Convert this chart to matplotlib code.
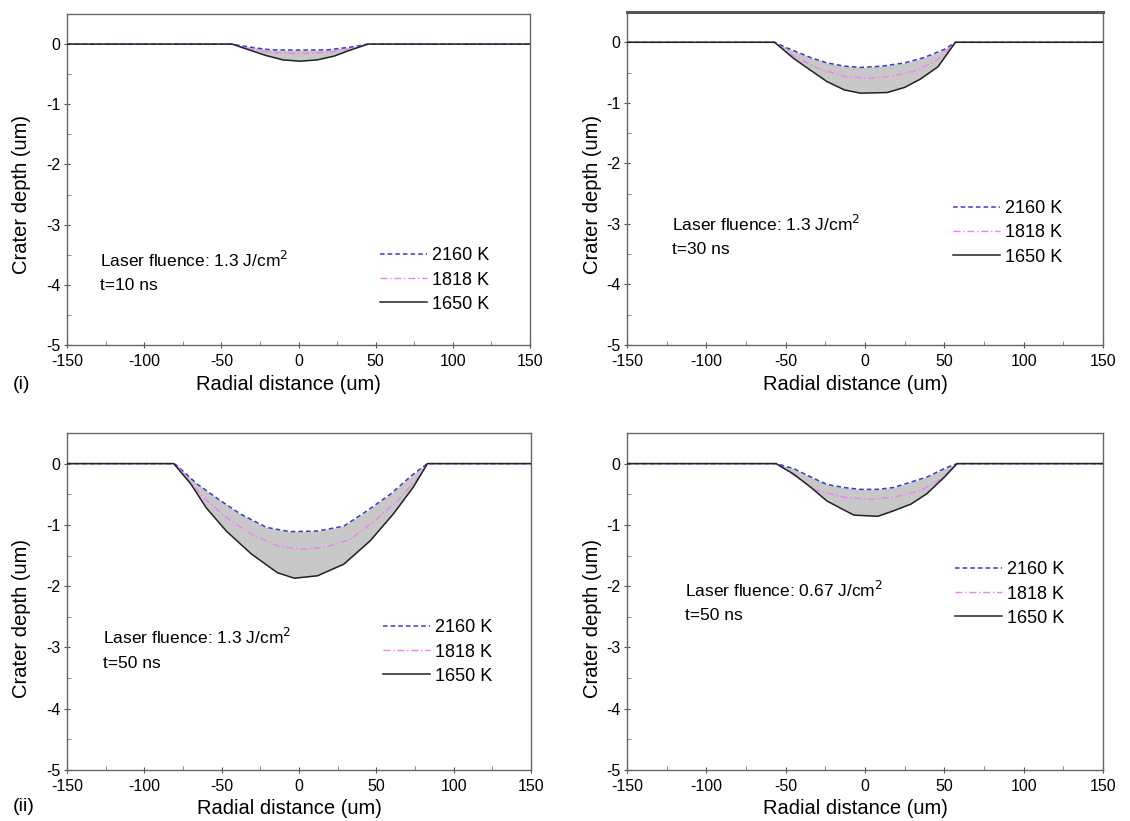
import numpy as np
import matplotlib
matplotlib.use("Agg")
import matplotlib.pyplot as plt
from matplotlib.ticker import MultipleLocator

plt.rcParams['font.family'] = ['Liberation Sans', 'DejaVu Sans']
plt.rcParams['axes.unicode_minus'] = False

# ---------------- data ----------------
temps = ["2160 K", "1818 K", "1650 K"]

# Panel (i)-left : 1.3 J/cm2, t = 10 ns
p1_x_2160 = [-150, -43, -31, -18, 1, 19, 33, 45, 150]
p1_d_2160 = [0, 0, -0.053, -0.095, -0.10, -0.095, -0.053, 0, 0]
p1_x_1818 = [-150, -43, -31, -18, 1, 19, 33, 45, 150]
p1_d_1818 = [0, 0, -0.084, -0.137, -0.158, -0.137, -0.084, 0, 0]
p1_x_1650 = [-150, -43, -31, -21, -10, 1, 12, 23, 33, 45, 150]
p1_d_1650 = [0, 0, -0.105, -0.19, -0.263, -0.284, -0.263, -0.20, -0.105, 0, 0]

# Panel (i)-right : 1.3 J/cm2, t = 30 ns
p2_x_2160 = [-150, -57, -49, -34, -24, -13, -3, 11, 25, 37, 50, 57, 150]
p2_d_2160 = [0, 0, -0.096, -0.255, -0.34, -0.394, -0.415, -0.394, -0.34, -0.255, -0.117, 0, 0]
p2_x_1818 = [-150, -57, -43, -28, -13, 2, 16, 31, 44, 57, 150]
p2_d_1818 = [0, 0, -0.255, -0.447, -0.564, -0.596, -0.564, -0.479, -0.319, 0, 0]
p2_x_1650 = [-150, -57, -45, -34, -24, -13, -3, 14, 25, 35, 46, 57, 150]
p2_d_1650 = [0, 0, -0.266, -0.468, -0.649, -0.787, -0.84, -0.83, -0.745, -0.606, -0.404, 0, 0]

# Panel (ii)-left : 1.3 J/cm2, t = 50 ns
p3_x_2160 = [-150, -81, -79, -66, -51, -38, -21, -6, 12, 29, 44, 59, 74, 83, 150]
p3_d_2160 = [0, 0, -0.03, -0.33, -0.60, -0.82, -1.04, -1.11, -1.10, -1.02, -0.77, -0.50, -0.17, 0, 0]
p3_x_1818 = [-150, -81, -79, -64, -47, -31, -14, 1, 16, 33, 49, 64, 79, 83, 150]
p3_d_1818 = [0, 0, -0.03, -0.50, -0.88, -1.15, -1.34, -1.40, -1.37, -1.24, -0.93, -0.60, -0.17, 0, 0]
p3_x_1650 = [-150, -81, -70, -60, -47, -31, -14, -3, 12, 29, 46, 61, 74, 83, 150]
p3_d_1650 = [0, 0, -0.33, -0.72, -1.10, -1.47, -1.78, -1.87, -1.83, -1.64, -1.26, -0.82, -0.38, 0, 0]

# Panel (ii)-right : 0.67 J/cm2, t = 50 ns
p4_x_2160 = [-150, -56, -45, -34, -24, -13, -3, 8, 18, 29, 39, 50, 58, 150]
p4_d_2160 = [0, 0, -0.08, -0.22, -0.34, -0.39, -0.42, -0.42, -0.39, -0.30, -0.22, -0.08, 0, 0]
p4_x_1818 = [-150, -56, -43, -30, -13, 4, 18, 35, 48, 58, 150]
p4_d_1818 = [0, 0, -0.22, -0.44, -0.55, -0.58, -0.55, -0.44, -0.25, 0, 0]
p4_x_1650 = [-150, -56, -45, -34, -24, -13, -7, 8, 18, 29, 39, 50, 58, 150]
p4_d_1650 = [0, 0, -0.17, -0.39, -0.61, -0.76, -0.84, -0.86, -0.77, -0.66, -0.49, -0.22, 0, 0]

fluence_texts = ["Laser fluence: 1.3 J/cm$^2$", "Laser fluence: 1.3 J/cm$^2$",
                 "Laser fluence: 1.3 J/cm$^2$", "Laser fluence: 0.67 J/cm$^2$"]
time_texts = ["t=10 ns", "t=30 ns", "t=50 ns", "t=50 ns"]

# ---------------- layout (figure pixels) ----------------
W, H = 1130, 821
def fx(px):
    return px / W
def fy(py):
    return 1 - py / H

panels = [
    dict(box=(67, 530, 14, 345), data=[(p1_x_2160, p1_d_2160), (p1_x_1818, p1_d_1818), (p1_x_1650, p1_d_1650)],
         txt=(100, 260, 285), leg=(380, 280), ylab=(22, 195), xlab=384, topthick=False),
    dict(box=(627, 1103, 12, 345), data=[(p2_x_2160, p2_d_2160), (p2_x_1818, p2_d_1818), (p2_x_1650, p2_d_1650)],
         txt=(672, 224, 249), leg=(953, 233), ylab=(593, 195), xlab=384, topthick=True),
    dict(box=(67, 531, 433, 770), data=[(p3_x_2160, p3_d_2160), (p3_x_1818, p3_d_1818), (p3_x_1650, p3_d_1650)],
         txt=(103, 637, 663), leg=(383, 652), ylab=(22, 618), xlab=808, topthick=False),
    dict(box=(627, 1103, 433, 770), data=[(p4_x_2160, p4_d_2160), (p4_x_1818, p4_d_1818), (p4_x_1650, p4_d_1650)],
         txt=(685, 590, 615), leg=(955, 594), ylab=(593, 618), xlab=808, topthick=False),
]

styles = [
    dict(color="#3a3acc", linestyle=(0, (3, 2)), linewidth=1.1),
    dict(color="#f080f0", linestyle=(0, (5, 2, 1, 2)), linewidth=1.0),
    dict(color="#222222", linestyle="-", linewidth=1.1),
]

fig = plt.figure(figsize=(W / 100, H / 100), dpi=100)

for i, p in enumerate(panels):
    l, r, t, b = p["box"]
    ax = fig.add_axes([fx(l), fy(b), fx(r) - fx(l), fy(t) - fy(b)])
    (x1, d1), (x2, d2), (x3, d3) = p["data"]
    xu = np.union1d(x1, x3)
    ax.fill_between(xu, np.interp(xu, x3, d3), np.interp(xu, x1, d1),
                    color="#c8c8c8", linewidth=0, zorder=1)
    handles = []
    for (x, d), st, lab in zip(p["data"], styles, temps):
        h, = ax.plot(x, d, label=lab, zorder=3, **st)
        handles.append(h)
    ax.set_xlim(-150, 150)
    ax.set_ylim(-5, 0.5)
    ax.set_xticks([-150, -100, -50, 0, 50, 100, 150])
    ax.set_yticks([0, -1, -2, -3, -4, -5])
    ax.xaxis.set_minor_locator(MultipleLocator(25))
    ax.yaxis.set_minor_locator(MultipleLocator(0.5))
    ax.tick_params(which="major", direction="inout", length=5, width=0.8,
                   labelsize=11.5, color="#555555", top=False, right=False)
    ax.tick_params(axis="x", which="major", pad=4)
    ax.tick_params(axis="y", which="major", pad=2)
    ax.tick_params(which="minor", direction="in", length=3, width=0.6,
                   color="#777777", top=False, right=False)
    for s in ax.spines.values():
        s.set_color("#666666")
        s.set_linewidth(1.0)
    if p["topthick"]:
        ax.spines["top"].set_linewidth(2.2)
        ax.spines["top"].set_color("#555555")

    ax.set_xlabel("Radial distance (um)", fontsize=14.5)
    ax.set_ylabel("Crater depth (um)", fontsize=14.5)
    ax.xaxis.label.set_va("center")
    ax.yaxis.label.set_va("center")
    ax.xaxis.set_label_coords(fx((l + r) / 2 - 10), fy(p["xlab"]), transform=fig.transFigure)
    ax.yaxis.set_label_coords(fx(p["ylab"][0]), fy(p["ylab"][1]), transform=fig.transFigure)

    tx, ty1, ty2 = p["txt"]
    fig.text(fx(tx), fy(ty1), fluence_texts[i], fontsize=12.5, va="center", ha="left")
    fig.text(fx(tx), fy(ty2), time_texts[i], fontsize=12.5, va="center", ha="left")

    lx, ly = p["leg"]
    ax.legend(handles=handles, loc="center left", bbox_to_anchor=(fx(lx), fy(ly)),
              bbox_transform=fig.transFigure, frameon=False, fontsize=13,
              handlelength=2.6, handletextpad=0.3, labelspacing=0.4,
              borderpad=0, borderaxespad=0)

fig.text(fx(13), fy(384), "(i)", fontsize=14, va="center", ha="left")
fig.text(fx(13), fy(806), "(ii)", fontsize=14, va="center", ha="left")

fig.savefig("out.png", dpi=100)
